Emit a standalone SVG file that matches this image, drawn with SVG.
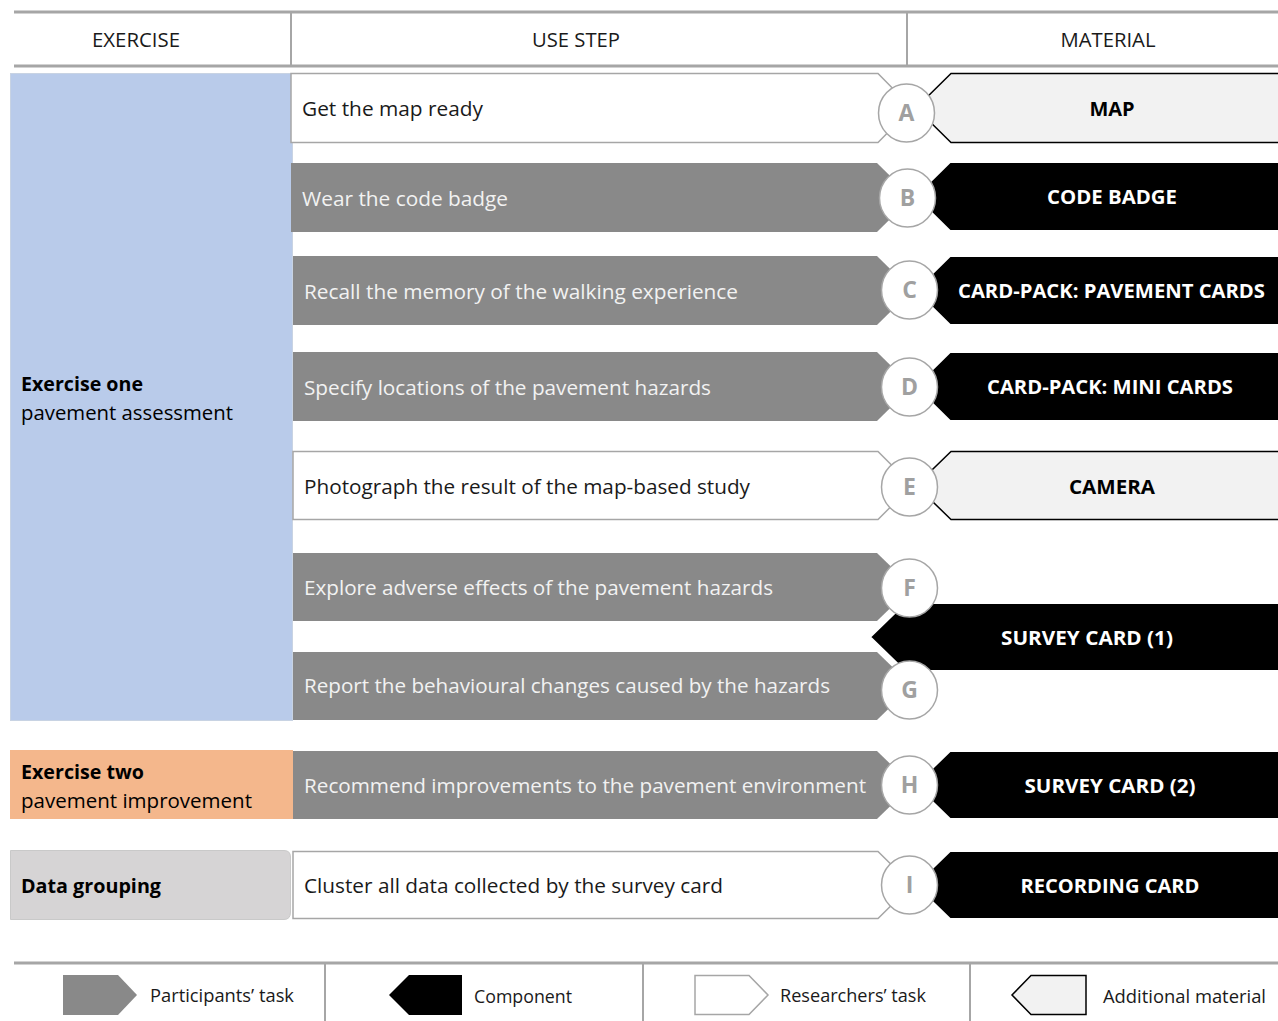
<svg xmlns="http://www.w3.org/2000/svg" width="1278" height="1021" viewBox="0 0 1278 1021">
<defs>
<style>
text{font-family:"Open Sans","Noto Sans","Liberation Sans",sans-serif;}
.hdr{font-size:20px;fill:#1a1a1a;text-anchor:middle;}
.rule{stroke:#a6a6a6;stroke-width:3;fill:none;}
.vdiv{stroke:#a6a6a6;stroke-width:2;}
.ptask{fill:#898989;}
.rtask{fill:#ffffff;stroke:#a6a6a6;stroke-width:1.5;}
.comp{fill:#000000;stroke:#ffffff;stroke-width:2;}
.addm{fill:#f2f2f2;stroke:#000000;stroke-width:1.5;}
.tw{font-size:20px;fill:#f2f2f2;}
.tb{font-size:20px;fill:#1a1a1a;}
.mw{font-size:20px;font-weight:bold;fill:#ffffff;text-anchor:middle;}
.mb{font-size:20px;font-weight:bold;fill:#000000;text-anchor:middle;}
.circ{fill:#ffffff;stroke:#a6a6a6;stroke-width:1.5;}
.lt{font-size:23px;font-weight:bold;fill:#a0a0a0;text-anchor:middle;}
.ex{font-size:20px;fill:#000;}
.exb{font-size:20px;font-weight:bold;fill:#000;}
.leg{font-size:18px;fill:#1a1a1a;}
</style>
</defs>

<g id="header">
<line class="rule" x1="14" y1="12" x2="1278" y2="12"/>
<line class="rule" x1="14" y1="66" x2="1278" y2="66"/>
<line class="vdiv" x1="291" y1="12" x2="291" y2="66"/>
<line class="vdiv" x1="907" y1="12" x2="907" y2="66"/>
<text class="hdr" x="136" y="47" textLength="88" lengthAdjust="spacingAndGlyphs">EXERCISE</text>
<text class="hdr" x="576" y="47" textLength="88" lengthAdjust="spacingAndGlyphs">USE STEP</text>
<text class="hdr" x="1108" y="47" textLength="95" lengthAdjust="spacingAndGlyphs">MATERIAL</text>
</g>

<g id="exercise-one">
<rect x="10.5" y="73.5" width="282" height="647" fill="#b9cbea" stroke="#c8d3e3" stroke-width="1"/>
<text class="exb" x="21" y="391" textLength="122" lengthAdjust="spacingAndGlyphs">Exercise one</text>
<text class="ex" x="21" y="420" textLength="212" lengthAdjust="spacingAndGlyphs">pavement assessment</text>
</g>
<g id="exercise-two">
<rect x="10" y="750" width="283" height="69" fill="#f4b78c"/>
<text class="exb" x="21" y="779" textLength="123" lengthAdjust="spacingAndGlyphs">Exercise two</text>
<text class="ex" x="21" y="808" textLength="231" lengthAdjust="spacingAndGlyphs">pavement improvement</text>
</g>
<g id="data-grouping">
<path d="M10.5,850.5 H284 Q290.5,850.5 290.5,857 V912 Q290.5,919.5 284,919.5 H10.5 Z" fill="#d6d4d5" stroke="#c9c9c9" stroke-width="1"/>
<text class="exb" x="21" y="893" textLength="140" lengthAdjust="spacingAndGlyphs">Data grouping</text>
</g>

<g id="connectors">
</g>

<g id="step-A">
<path class="rtask" d="M291,73.5 H878 L912,108 L878,142.5 H291 Z"/>
<text class="tb" x="302" y="116" textLength="181" lengthAdjust="spacingAndGlyphs">Get the map ready</text>
</g>
<g id="step-B">
<path class="ptask" d="M291,163 H877 L912,197.5 L877,232 H291 Z"/>
<text class="tw" x="302" y="206" textLength="206" lengthAdjust="spacingAndGlyphs">Wear the code badge</text>
</g>
<g id="step-C">
<path class="ptask" d="M293,256 H877 L912,290.5 L877,325 H293 Z"/>
<text class="tw" x="304" y="299" textLength="434" lengthAdjust="spacingAndGlyphs">Recall the memory of the walking experience</text>
</g>
<g id="step-D">
<path class="ptask" d="M293,352 H877 L912,386.5 L877,421 H293 Z"/>
<text class="tw" x="304" y="395" textLength="407" lengthAdjust="spacingAndGlyphs">Specify locations of the pavement hazards</text>
</g>
<g id="step-E">
<path class="rtask" d="M293,451.5 H878 L912,485.5 L878,519.5 H293 Z"/>
<text class="tb" x="304" y="494" textLength="446" lengthAdjust="spacingAndGlyphs">Photograph the result of the map-based study</text>
</g>
<g id="step-F">
<path class="ptask" d="M293,553 H877 L912,587 L877,621 H293 Z"/>
<text class="tw" x="304" y="595" textLength="469" lengthAdjust="spacingAndGlyphs">Explore adverse effects of the pavement hazards</text>
</g>
<g id="step-G">
<path class="ptask" d="M293,652 H877 L912,686 L877,720 H293 Z"/>
<text class="tw" x="304" y="693" textLength="526" lengthAdjust="spacingAndGlyphs">Report the behavioural changes caused by the hazards</text>
</g>
<g id="step-H">
<path class="ptask" d="M293,751 H877 L912,785 L877,819 H293 Z"/>
<text class="tw" x="304" y="793" textLength="562" lengthAdjust="spacingAndGlyphs">Recommend improvements to the pavement environment</text>
</g>
<g id="step-I">
<path class="rtask" d="M293,851.5 H878 L912,885 L878,918.5 H293 Z"/>
<text class="tb" x="304" y="893" textLength="419" lengthAdjust="spacingAndGlyphs">Cluster all data collected by the survey card</text>
</g>

<g id="material-map">
<path class="addm" d="M1280,73.5 H951 L916,108 L951,142.5 H1280 Z"/>
<text class="mb" x="1112" y="116">MAP</text>
</g>
<g id="material-code-badge">
<path class="comp" d="M1280,162 H950 L915,196.5 L950,231 H1280 Z"/>
<text class="mw" x="1112" y="204" textLength="130" lengthAdjust="spacingAndGlyphs">CODE BADGE</text>
</g>
<g id="material-pavement-cards">
<path class="comp" d="M1280,256 H950 L915,290.5 L950,325 H1280 Z"/>
<text class="mw" x="1111.5" y="298" textLength="307" lengthAdjust="spacingAndGlyphs">CARD-PACK: PAVEMENT CARDS</text>
</g>
<g id="material-mini-cards">
<path class="comp" d="M1280,352 H950 L915,386.5 L950,421 H1280 Z"/>
<text class="mw" x="1110" y="394" textLength="246" lengthAdjust="spacingAndGlyphs">CARD-PACK: MINI CARDS</text>
</g>
<g id="material-camera">
<path class="addm" d="M1280,451.5 H951 L916,485.5 L951,519.5 H1280 Z"/>
<text class="mb" x="1112" y="494" textLength="86" lengthAdjust="spacingAndGlyphs">CAMERA</text>
</g>
<g id="material-survey-card-1">
<path class="comp" d="M1280,603 H905 L870,637 L905,671 H1280 Z"/>
<text class="mw" x="1087" y="645" textLength="172" lengthAdjust="spacingAndGlyphs">SURVEY CARD (1)</text>
</g>
<g id="material-survey-card-2">
<path class="comp" d="M1280,751 H950 L915,785 L950,819 H1280 Z"/>
<text class="mw" x="1110" y="793" textLength="171" lengthAdjust="spacingAndGlyphs">SURVEY CARD (2)</text>
</g>
<g id="material-recording-card">
<path class="comp" d="M1280,851 H950 L915,885 L950,919 H1280 Z"/>
<text class="mw" x="1110" y="893" textLength="179" lengthAdjust="spacingAndGlyphs">RECORDING CARD</text>
</g>

<g id="badge-A"><ellipse class="circ" cx="906.5" cy="113" rx="28" ry="29"/><text class="lt" x="906.5" y="121">A</text></g>
<g id="badge-B"><ellipse class="circ" cx="907.5" cy="198" rx="28" ry="29"/><text class="lt" x="907.5" y="206">B</text></g>
<g id="badge-C"><ellipse class="circ" cx="909.5" cy="290" rx="28" ry="29"/><text class="lt" x="909.5" y="298">C</text></g>
<g id="badge-D"><ellipse class="circ" cx="909.5" cy="387" rx="28" ry="29"/><text class="lt" x="909.5" y="395">D</text></g>
<g id="badge-E"><ellipse class="circ" cx="909.5" cy="487" rx="28" ry="29"/><text class="lt" x="909.5" y="495">E</text></g>
<g id="badge-F"><ellipse class="circ" cx="909.5" cy="588" rx="28" ry="29"/><text class="lt" x="909.5" y="596">F</text></g>
<g id="badge-G"><ellipse class="circ" cx="909.5" cy="690" rx="28" ry="29"/><text class="lt" x="909.5" y="698">G</text></g>
<g id="badge-H"><ellipse class="circ" cx="909.5" cy="785" rx="28" ry="29"/><text class="lt" x="909.5" y="793">H</text></g>
<g id="badge-I"><ellipse class="circ" cx="909.5" cy="885" rx="28" ry="29"/><text class="lt" x="909.5" y="893">I</text></g>

<g id="legend">
<line class="rule" x1="14" y1="963" x2="1278" y2="963"/>
<line class="vdiv" x1="325" y1="963" x2="325" y2="1021"/>
<line class="vdiv" x1="643" y1="963" x2="643" y2="1021"/>
<line class="vdiv" x1="970" y1="963" x2="970" y2="1021"/>
<path fill="#898989" d="M63,975 H118 L137,995 L118,1015 H63 Z"/>
<text class="leg" x="150" y="1002" textLength="144" lengthAdjust="spacingAndGlyphs">Participants’ task</text>
<path fill="#000" d="M462,975 H409 L389,995 L409,1015 H462 Z"/>
<text class="leg" x="474" y="1003" textLength="98" lengthAdjust="spacingAndGlyphs">Component</text>
<path fill="#fff" stroke="#a6a6a6" stroke-width="1.5" d="M695,975.5 H749 L768,995 L749,1014.5 H695 Z"/>
<text class="leg" x="780" y="1002" textLength="146" lengthAdjust="spacingAndGlyphs">Researchers’ task</text>
<path fill="#f2f2f2" stroke="#000" stroke-width="1.5" d="M1086,975.5 H1031 L1012,995 L1031,1014.5 H1086 Z"/>
<text class="leg" x="1103" y="1003" textLength="163" lengthAdjust="spacingAndGlyphs">Additional material</text>
</g>
</svg>
